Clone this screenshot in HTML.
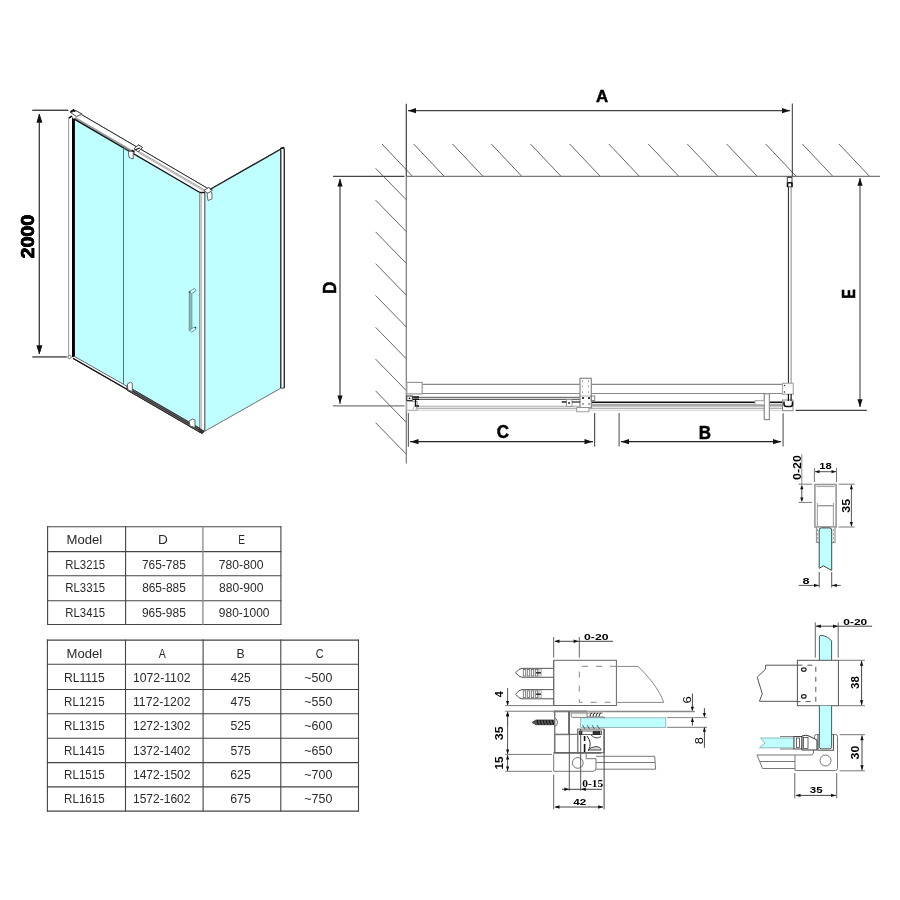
<!DOCTYPE html>
<html><head><meta charset="utf-8"><style>
html,body{margin:0;padding:0;background:#fff;width:900px;height:900px;overflow:hidden}
svg{display:block;will-change:transform}
</style></head><body>
<svg width="900" height="900" viewBox="0 0 900 900">
<rect width="900" height="900" fill="#fff"/>
<line x1="382" y1="144" x2="412.5" y2="176.3" stroke="#555" stroke-width="0.9" />
<line x1="413.7" y1="144" x2="444.2" y2="176.3" stroke="#555" stroke-width="0.9" />
<line x1="452.5" y1="144" x2="483.0" y2="176.3" stroke="#555" stroke-width="0.9" />
<line x1="491.3" y1="144" x2="521.8" y2="176.3" stroke="#555" stroke-width="0.9" />
<line x1="530.5" y1="144" x2="561.0" y2="176.3" stroke="#555" stroke-width="0.9" />
<line x1="569.7" y1="144" x2="600.2" y2="176.3" stroke="#555" stroke-width="0.9" />
<line x1="608.9" y1="144" x2="639.4" y2="176.3" stroke="#555" stroke-width="0.9" />
<line x1="648.3" y1="144" x2="678.8" y2="176.3" stroke="#555" stroke-width="0.9" />
<line x1="687.3" y1="144" x2="717.8" y2="176.3" stroke="#555" stroke-width="0.9" />
<line x1="726.7" y1="144" x2="757.2" y2="176.3" stroke="#555" stroke-width="0.9" />
<line x1="765.7" y1="144" x2="796.2" y2="176.3" stroke="#555" stroke-width="0.9" />
<line x1="802.3" y1="144" x2="832.8" y2="176.3" stroke="#555" stroke-width="0.9" />
<line x1="839" y1="144" x2="869.5" y2="176.3" stroke="#555" stroke-width="0.9" />
<line x1="375.6" y1="168.3" x2="406.3" y2="199.8" stroke="#555" stroke-width="0.9" />
<line x1="375.6" y1="200.1" x2="406.3" y2="231.6" stroke="#555" stroke-width="0.9" />
<line x1="375.6" y1="231.9" x2="406.3" y2="263.4" stroke="#555" stroke-width="0.9" />
<line x1="375.6" y1="263.7" x2="406.3" y2="295.2" stroke="#555" stroke-width="0.9" />
<line x1="375.6" y1="295.5" x2="406.3" y2="327.0" stroke="#555" stroke-width="0.9" />
<line x1="375.6" y1="327.3" x2="406.3" y2="358.8" stroke="#555" stroke-width="0.9" />
<line x1="375.6" y1="359.1" x2="406.3" y2="390.6" stroke="#555" stroke-width="0.9" />
<line x1="375.6" y1="390.9" x2="406.3" y2="422.4" stroke="#555" stroke-width="0.9" />
<line x1="375.6" y1="422.7" x2="406.3" y2="454.2" stroke="#555" stroke-width="0.9" />
<line x1="406.3" y1="176.3" x2="880" y2="176.3" stroke="#777" stroke-width="1.2" />
<line x1="406.3" y1="176.3" x2="406.3" y2="463.6" stroke="#777" stroke-width="1.2" />
<line x1="406.3" y1="103.8" x2="406.3" y2="176.3" stroke="#444" stroke-width="1.2" />
<line x1="792.3" y1="103.5" x2="792.3" y2="176.3" stroke="#333" stroke-width="1" />
<line x1="408" y1="110.7" x2="790" y2="110.7" stroke="#444" stroke-width="1.2" />
<polygon points="408,110.7 416,108.10000000000001 416,113.3" stroke="none" fill="#111" stroke-width="1" />
<polygon points="790,110.7 782,108.10000000000001 782,113.3" stroke="none" fill="#111" stroke-width="1" />
<text x="596.04" y="102.20" font-family="Liberation Sans" font-size="17.35" font-weight="bold" fill="#000" stroke="#000" stroke-width="0.5" textLength="12.18" lengthAdjust="spacingAndGlyphs">A</text>
<line x1="333" y1="176.4" x2="404.5" y2="176.4" stroke="#444" stroke-width="1.2" />
<line x1="333" y1="405.8" x2="404.5" y2="405.8" stroke="#777" stroke-width="1.2" />
<line x1="340" y1="179" x2="340" y2="404" stroke="#444" stroke-width="1.2" />
<polygon points="340,178.5 337.4,186.5 342.6,186.5" stroke="none" fill="#111" stroke-width="1" />
<polygon points="340,403.5 337.4,395.5 342.6,395.5" stroke="none" fill="#111" stroke-width="1" />
<text x="336.00" y="293.99" font-family="Liberation Sans" font-size="17.49" font-weight="bold" fill="#000" stroke="#000" stroke-width="0.5" transform="rotate(-90 336.00 293.99)" textLength="12.59" lengthAdjust="spacingAndGlyphs">D</text>
<line x1="795.6" y1="410.4" x2="866.8" y2="410.4" stroke="#444" stroke-width="1.2" />
<line x1="860" y1="178" x2="860" y2="407" stroke="#555" stroke-width="1.2" />
<polygon points="860,177.8 857.4,185.8 862.6,185.8" stroke="none" fill="#111" stroke-width="1" />
<polygon points="860,407.2 857.4,399.2 862.6,399.2" stroke="none" fill="#111" stroke-width="1" />
<text x="855.30" y="298.81" font-family="Liberation Sans" font-size="17.78" font-weight="bold" fill="#000" stroke="#000" stroke-width="0.5" transform="rotate(-90 855.30 298.81)" textLength="9.69" lengthAdjust="spacingAndGlyphs">E</text>
<line x1="408.4" y1="412.9" x2="408.4" y2="446.7" stroke="#666" stroke-width="1.2" />
<line x1="594.6" y1="413" x2="594.6" y2="446.5" stroke="#555" stroke-width="1.2" />
<line x1="410" y1="441.7" x2="593" y2="441.7" stroke="#222" stroke-width="1.2" />
<polygon points="410.5,441.7 418.5,439.09999999999997 418.5,444.3" stroke="none" fill="#111" stroke-width="1" />
<polygon points="592.5,441.7 584.5,439.09999999999997 584.5,444.3" stroke="none" fill="#111" stroke-width="1" />
<text x="496.87" y="438.30" font-family="Liberation Sans" font-size="18.20" font-weight="bold" fill="#000" stroke="#000" stroke-width="0.5" textLength="12.25" lengthAdjust="spacingAndGlyphs">C</text>
<line x1="619.1" y1="413" x2="619.1" y2="446.5" stroke="#666" stroke-width="1.2" />
<line x1="783.1" y1="413.3" x2="783.1" y2="446.5" stroke="#666" stroke-width="1.2" />
<line x1="621" y1="441.7" x2="781" y2="441.7" stroke="#222" stroke-width="1.2" />
<polygon points="621,441.7 629,439.09999999999997 629,444.3" stroke="none" fill="#111" stroke-width="1" />
<polygon points="781,441.7 773,439.09999999999997 773,444.3" stroke="none" fill="#111" stroke-width="1" />
<text x="698.64" y="438.50" font-family="Liberation Sans" font-size="18.06" font-weight="bold" fill="#000" stroke="#000" stroke-width="0.5" textLength="12.25" lengthAdjust="spacingAndGlyphs">B</text>
<line x1="788.4" y1="186" x2="788.4" y2="384" stroke="#222" stroke-width="1" />
<line x1="791.1" y1="186" x2="791.1" y2="384" stroke="#888" stroke-width="1" />
<rect x="787.4" y="176.8" width="4.6" height="10" stroke="#666" fill="#fff" stroke-width="1.2" />
<path d="M787.6,182.5 v4.5 M792,182.5 v4.5 M787.6,182.8 h4.4" stroke="#111" fill="none" stroke-width="1.5" />
<line x1="787.4" y1="177.3" x2="792" y2="177.3" stroke="#444" stroke-width="1.4" />
<line x1="422" y1="384.4" x2="782.5" y2="384.4" stroke="#888" stroke-width="1.2" />
<line x1="422" y1="393.5" x2="782.5" y2="393.5" stroke="#888" stroke-width="1.2" />
<rect x="406.8" y="382.4" width="15.4" height="11.5" stroke="#999" fill="#fff" stroke-width="1.2" />
<rect x="782.5" y="383.3" width="10.8" height="10.9" stroke="#aaa" fill="#fff" stroke-width="1.2" />
<circle cx="784.5" cy="385.5" r="0.7" fill="#222"/><circle cx="784.5" cy="392" r="0.7" fill="#222"/>
<line x1="414" y1="397.3" x2="580" y2="397.3" stroke="#777" stroke-width="1.3" />
<line x1="414" y1="399.3" x2="580" y2="399.3" stroke="#666" stroke-width="1.3" />
<line x1="591" y1="402.3" x2="782" y2="402.3" stroke="#111" stroke-width="1.6" />
<rect x="591" y="403.7" width="191" height="3" stroke="none" fill="#aaa" stroke-width="1" />
<line x1="406.5" y1="406.3" x2="591" y2="406.3" stroke="#aaa" stroke-width="1.1" />
<line x1="406.5" y1="408.3" x2="782" y2="408.3" stroke="#999" stroke-width="1.1" />
<line x1="406.5" y1="410.3" x2="782" y2="410.3" stroke="#ccc" stroke-width="1.1" />
<rect x="406.8" y="401.5" width="10.5" height="8.8" stroke="#aaa" fill="#fff" stroke-width="1" />
<rect x="406.8" y="396" width="5.5" height="4.5" stroke="#333" fill="#fff" stroke-width="1" />
<circle cx="409.5" cy="398.3" r="0.9" fill="#111"/>
<path d="M412.5,397 h6.5 M413,399.3 h6 M415.5,399.5 v6.5 h3.5" stroke="#111" fill="none" stroke-width="1.4" />
<path d="M413,409.5 l1.5,-4 M416,409.5 l1,-3" stroke="#999" fill="none" stroke-width="0.8" />
<rect x="580" y="378.3" width="11.3" height="29.5" stroke="#888" fill="#fff" stroke-width="1.2" />
<line x1="580" y1="396" x2="591.3" y2="396" stroke="#999" stroke-width="0.8" />
<circle cx="582.5" cy="381" r="0.6" fill="#555"/>
<circle cx="588.5" cy="381" r="0.6" fill="#555"/>
<circle cx="582.5" cy="386" r="0.6" fill="#555"/>
<circle cx="588.5" cy="386" r="0.6" fill="#555"/>
<circle cx="582.5" cy="392" r="0.6" fill="#555"/>
<circle cx="588.5" cy="392" r="0.6" fill="#555"/>
<rect x="591.3" y="396" width="3.5" height="4.5" stroke="#666" fill="#fff" stroke-width="0.8" />
<circle cx="583" cy="398" r="1.1" fill="#111"/><circle cx="589" cy="398" r="1.1" fill="#111"/>
<circle cx="583" cy="404" r="0.7" fill="#111"/><circle cx="589" cy="404" r="0.7" fill="#111"/>
<rect x="576.7" y="407.6" width="12.2" height="4.2" stroke="#888" fill="#fff" stroke-width="0.8" />
<rect x="566.5" y="399.5" width="5.5" height="6.8" stroke="#888" fill="#fff" stroke-width="0.8" />
<line x1="561.7" y1="402" x2="566.5" y2="402" stroke="#222" stroke-width="1.5" />
<line x1="572" y1="402" x2="580" y2="402" stroke="#222" stroke-width="1.2" />
<circle cx="569" cy="403" r="0.9" fill="#111"/>
<rect x="782.5" y="400" width="10.5" height="10.7" stroke="#888" fill="#fff" stroke-width="1" />
<path d="M784,401.5 v2.5 q0,2.5 2.5,2.5 h4 q2,0 2,-2.5 v-2.5" stroke="#111" fill="none" stroke-width="1.6" />
<line x1="788.4" y1="394" x2="788.4" y2="401" stroke="#111" stroke-width="1.2" />
<line x1="791.1" y1="394" x2="791.1" y2="401" stroke="#111" stroke-width="1.2" />
<rect x="764.3" y="393.8" width="5" height="25.8" stroke="#888" fill="#fff" stroke-width="1" />
<rect x="755" y="400.8" width="9.3" height="4" stroke="#999" fill="#fff" stroke-width="0.8" />
<line x1="596.6" y1="0" x2="0" y2="0" stroke="none" stroke-width="0" />
<line x1="32.4" y1="110.4" x2="68.2" y2="110.4" stroke="#444" stroke-width="1.1" />
<line x1="32.4" y1="356.9" x2="66.7" y2="356.9" stroke="#666" stroke-width="1.2" />
<line x1="39.4" y1="114" x2="39.4" y2="354" stroke="#444" stroke-width="1.2" />
<polygon points="39.4,113.7 36.6,122.5 42.199999999999996,122.5" stroke="none" fill="#111" stroke-width="1" />
<polygon points="39.4,354.2 36.6,345.4 42.199999999999996,345.4" stroke="none" fill="#111" stroke-width="1" />
<text x="34.10" y="258.51" font-family="Liberation Sans" font-size="18.77" font-weight="bold" fill="#000" stroke="#000" stroke-width="0.5" transform="rotate(-90 34.10 258.51)" textLength="43.71" lengthAdjust="spacingAndGlyphs">2000</text>
<polygon points="74,118.854 200,192.564 200,429 127,386.5 74,356" stroke="none" fill="#bfffff" stroke-width="1" />
<polygon points="205,192 281,149 281,388 205,431" stroke="none" fill="#bfffff" stroke-width="1" />
<line x1="68.6" y1="117.5" x2="68.6" y2="357" stroke="#aaa" stroke-width="1" />
<line x1="73.5" y1="116" x2="73.5" y2="357" stroke="#000" stroke-width="2.8" />
<polygon points="73,118.66900000000001 70.5,112.5 81.6,114.7 207,188.059 205,195.389" stroke="none" fill="#fff" stroke-width="1" />
<line x1="81.6" y1="114.7" x2="207" y2="188.059" stroke="#333" stroke-width="1" />
<line x1="138" y1="150.99400000000003" x2="206" y2="190.774" stroke="#999" stroke-width="1" />
<line x1="138" y1="152.394" x2="206" y2="192.17399999999998" stroke="#aaa" stroke-width="1" />
<line x1="75" y1="117.73900000000002" x2="135" y2="152.839" stroke="#999" stroke-width="1.8" />
<line x1="73.5" y1="118.5615" x2="205" y2="195.489" stroke="#111" stroke-width="1.4" />
<polygon points="70.5,112.5 76,110.8 82,114.2 76.5,116.5" stroke="#444" fill="#fff" stroke-width="0.9" />
<path d="M70.5,112 l3,-2 l1.5,1.5 M69,118 l3,-2" stroke="#111" fill="none" stroke-width="1.5" />
<polygon points="134.1,148.5 138.5,145 142.6,147.5 138,151.9" stroke="#333" fill="#fff" stroke-width="0.9" />
<line x1="134.5" y1="150" x2="140" y2="148" stroke="#111" stroke-width="1.3" />
<polygon points="128.3,151.5 132,151 133.2,152.5 133.2,159 129,157.5" stroke="#555" fill="#fff" stroke-width="0.9" />
<line x1="131.5" y1="150.5" x2="134.5" y2="151.5" stroke="#111" stroke-width="1.4" />
<line x1="123.5" y1="148.1" x2="123.5" y2="384.5" stroke="#466" stroke-width="0.9" />
<line x1="123.5" y1="148.1" x2="128.3" y2="150.5" stroke="#466" stroke-width="0.8" />
<rect x="199.6" y="192" width="5.6" height="239.5" stroke="none" fill="#fff" stroke-width="1" />
<line x1="199.8" y1="192" x2="199.8" y2="431" stroke="#888" stroke-width="1.3" />
<line x1="201.6" y1="192" x2="201.6" y2="431" stroke="#bbb" stroke-width="1" />
<line x1="204.8" y1="192" x2="204.8" y2="431" stroke="#666" stroke-width="1.3" />
<line x1="199.5" y1="192.5" x2="204.8" y2="192.5" stroke="#111" stroke-width="1.4" />
<polygon points="204,190.5 208.5,187.5 212.5,190 208,193.5" stroke="#444" fill="#fff" stroke-width="0.9" />
<polygon points="207,193.5 211,191.5 212,193 212,199 208,200.5" stroke="#555" fill="#fff" stroke-width="0.9" />
<line x1="210" y1="189.5" x2="281.5" y2="148.8" stroke="#222" stroke-width="1.3" />
<line x1="205" y1="431" x2="281" y2="388" stroke="#777" stroke-width="0.9" />
<rect x="281" y="148.5" width="3.2" height="239.5" stroke="none" fill="#fff" stroke-width="1" />
<line x1="280.8" y1="150" x2="280.8" y2="388" stroke="#111" stroke-width="1.2" />
<line x1="284.2" y1="148.5" x2="284.2" y2="388" stroke="#222" stroke-width="1.2" />
<line x1="280.8" y1="388" x2="284.2" y2="388" stroke="#666" stroke-width="1" />
<line x1="280.5" y1="148.8" x2="284.2" y2="147.5" stroke="#111" stroke-width="1.5" />
<polygon points="74,356 127,386.3 127,389.3 74,358.6" stroke="none" fill="#fff" stroke-width="1" />
<line x1="74" y1="356.2" x2="127" y2="386.3" stroke="#556" stroke-width="0.9" />
<line x1="73" y1="358.3" x2="127" y2="389.2" stroke="#111" stroke-width="1.3" />
<polygon points="127,386 200,428.3 200,432.3 127,390" stroke="#222" fill="#666" stroke-width="0.9" />
<line x1="127" y1="388" x2="200" y2="430.3" stroke="#222" stroke-width="0.8" />
<polygon points="199,428 205,431 202,434 199,432" stroke="none" fill="#333" stroke-width="1" />
<circle cx="69.5" cy="357" r="1.6" stroke="#777" fill="#fff" stroke-width="0.8"/>
<polygon points="127.3,384.5 130.3,383 132.6,384.2 132.6,392 128.3,390.8" stroke="#666" fill="#fff" stroke-width="0.9" />
<line x1="127.3" y1="386" x2="132.6" y2="386.2" stroke="#888" stroke-width="0.8" />
<polygon points="189.3,421.0 192.3,419.5 194.60000000000002,420.7 194.60000000000002,428.5 190.3,427.3" stroke="#666" fill="#fff" stroke-width="0.9" />
<line x1="189.3" y1="422.5" x2="194.60000000000002" y2="422.7" stroke="#888" stroke-width="0.8" />
<rect x="764.3" y="393.8" width="5" height="25.8" stroke="#888" fill="#fff" stroke-width="1" />
<rect x="755" y="400.8" width="9.3" height="4" stroke="#999" fill="#fff" stroke-width="0.8" />
<line x1="596.6" y1="0" x2="0" y2="0" stroke="none" stroke-width="0" />
<line x1="32.4" y1="110.4" x2="68.2" y2="110.4" stroke="#444" stroke-width="1.1" />
<line x1="32.4" y1="356.9" x2="66.7" y2="356.9" stroke="#666" stroke-width="1.2" />
<line x1="39.4" y1="114" x2="39.4" y2="354" stroke="#444" stroke-width="1.2" />
<polygon points="39.4,113.7 36.6,122.5 42.199999999999996,122.5" stroke="none" fill="#111" stroke-width="1" />
<polygon points="39.4,354.2 36.6,345.4 42.199999999999996,345.4" stroke="none" fill="#111" stroke-width="1" />
<text x="34.10" y="258.51" font-family="Liberation Sans" font-size="18.77" font-weight="bold" fill="#000" stroke="#000" stroke-width="0.5" transform="rotate(-90 34.10 258.51)" textLength="43.71" lengthAdjust="spacingAndGlyphs">2000</text>
<polygon points="74,118.854 200,192.564 200,429 127,386.5 74,356" stroke="none" fill="#bfffff" stroke-width="1" />
<polygon points="205,192 281,149 281,388 205,431" stroke="none" fill="#bfffff" stroke-width="1" />
<line x1="68.6" y1="117.5" x2="68.6" y2="357" stroke="#aaa" stroke-width="1" />
<line x1="73.5" y1="116" x2="73.5" y2="357" stroke="#000" stroke-width="2.8" />
<polygon points="73,118.66900000000001 70.5,112.5 81.6,114.7 207,188.059 205,195.389" stroke="none" fill="#fff" stroke-width="1" />
<line x1="81.6" y1="114.7" x2="207" y2="188.059" stroke="#333" stroke-width="1" />
<line x1="138" y1="150.99400000000003" x2="206" y2="190.774" stroke="#999" stroke-width="1" />
<line x1="138" y1="152.394" x2="206" y2="192.17399999999998" stroke="#aaa" stroke-width="1" />
<line x1="75" y1="117.73900000000002" x2="135" y2="152.839" stroke="#999" stroke-width="1.8" />
<line x1="73.5" y1="118.5615" x2="205" y2="195.489" stroke="#111" stroke-width="1.4" />
<polygon points="70.5,112.5 76,110.8 82,114.2 76.5,116.5" stroke="#444" fill="#fff" stroke-width="0.9" />
<path d="M70.5,112 l3,-2 l1.5,1.5 M69,118 l3,-2" stroke="#111" fill="none" stroke-width="1.5" />
<polygon points="134.1,148.5 138.5,145 142.6,147.5 138,151.9" stroke="#333" fill="#fff" stroke-width="0.9" />
<line x1="134.5" y1="150" x2="140" y2="148" stroke="#111" stroke-width="1.3" />
<polygon points="128.3,151.5 132,151 133.2,152.5 133.2,159 129,157.5" stroke="#555" fill="#fff" stroke-width="0.9" />
<line x1="131.5" y1="150.5" x2="134.5" y2="151.5" stroke="#111" stroke-width="1.4" />
<line x1="123.5" y1="148.1" x2="123.5" y2="384.5" stroke="#466" stroke-width="0.9" />
<line x1="123.5" y1="148.1" x2="128.3" y2="150.5" stroke="#466" stroke-width="0.8" />
<rect x="199.6" y="192" width="5.6" height="239.5" stroke="none" fill="#fff" stroke-width="1" />
<line x1="199.8" y1="192" x2="199.8" y2="431" stroke="#888" stroke-width="1.3" />
<line x1="201.6" y1="192" x2="201.6" y2="431" stroke="#bbb" stroke-width="1" />
<line x1="204.8" y1="192" x2="204.8" y2="431" stroke="#666" stroke-width="1.3" />
<line x1="199.5" y1="192.5" x2="204.8" y2="192.5" stroke="#111" stroke-width="1.4" />
<polygon points="204,190.5 208.5,187.5 212.5,190 208,193.5" stroke="#444" fill="#fff" stroke-width="0.9" />
<polygon points="207,193.5 211,191.5 212,193 212,199 208,200.5" stroke="#555" fill="#fff" stroke-width="0.9" />
<line x1="210" y1="189.5" x2="281.5" y2="148.8" stroke="#222" stroke-width="1.3" />
<line x1="205" y1="431" x2="281" y2="388" stroke="#777" stroke-width="0.9" />
<rect x="281" y="148.5" width="3.2" height="239.5" stroke="none" fill="#fff" stroke-width="1" />
<line x1="280.8" y1="150" x2="280.8" y2="388" stroke="#111" stroke-width="1.2" />
<line x1="284.2" y1="148.5" x2="284.2" y2="388" stroke="#222" stroke-width="1.2" />
<line x1="280.8" y1="388" x2="284.2" y2="388" stroke="#666" stroke-width="1" />
<line x1="280.5" y1="148.8" x2="284.2" y2="147.5" stroke="#111" stroke-width="1.5" />
<polygon points="74,356 127,386.3 127,389.3 74,358.6" stroke="none" fill="#fff" stroke-width="1" />
<line x1="74" y1="356.2" x2="127" y2="386.3" stroke="#556" stroke-width="0.9" />
<line x1="73" y1="358.3" x2="127" y2="389.2" stroke="#111" stroke-width="1.3" />
<polygon points="127,386 200,428.3 200,432.3 127,390" stroke="#222" fill="#666" stroke-width="0.9" />
<line x1="127" y1="388" x2="200" y2="430.3" stroke="#222" stroke-width="0.8" />
<polygon points="199,428 205,431 202,434 199,432" stroke="none" fill="#333" stroke-width="1" />
<circle cx="69.5" cy="357" r="1.6" stroke="#777" fill="#fff" stroke-width="0.8"/>
<polygon points="127.3,384 130.5,382.2 132.3,383.2 132.3,391.5 128,390" stroke="#555" fill="#fff" stroke-width="0.9" />
<polygon points="189,421 192.5,419 195,420 195,427.5 190,426" stroke="#555" fill="#fff" stroke-width="0.9" />
<path d="M189.3,292 L189.3,330.5 M191.8,294 L191.8,329" stroke="#578" fill="none" stroke-width="0.9" />
<line x1="190.5" y1="292" x2="190.5" y2="330" stroke="#9bb" stroke-width="1" />
<path d="M189.5,291.5 L194.5,288.5 L196.2,290.5 L191.5,293.8 Z" stroke="#477" fill="#dff" stroke-width="0.8" />
<path d="M189.5,330 L194.5,327 L196.2,329 L191.5,332.2 Z" stroke="#477" fill="#dff" stroke-width="0.8" />
<circle cx="189.5" cy="292" r="0.8" fill="#233"/><circle cx="195.5" cy="327.5" r="0.8" fill="#233"/>
<text x="800.90" y="479.89" font-family="Liberation Sans" font-size="11.52" font-weight="bold" fill="#000" transform="rotate(-90 800.90 479.89)" textLength="24.69" lengthAdjust="spacingAndGlyphs">0-20</text>
<line x1="801.8" y1="454.2" x2="801.8" y2="484.2" stroke="#888" stroke-width="1" />
<line x1="801.8" y1="486" x2="801.8" y2="501" stroke="#555" stroke-width="1" />
<polygon points="801.8,484.8 800.1999999999999,489.3 803.4,489.3" stroke="none" fill="#111" stroke-width="1" />
<polygon points="801.8,502 800.1999999999999,497.5 803.4,497.5" stroke="none" fill="#111" stroke-width="1" />
<line x1="798.5" y1="484.2" x2="812.2" y2="484.2" stroke="#777" stroke-width="1" />
<line x1="798.5" y1="502.4" x2="812.2" y2="502.4" stroke="#777" stroke-width="1" />
<text x="819.30" y="468.90" font-family="Liberation Sans" font-size="9.39" font-weight="bold" fill="#000" textLength="12.48" lengthAdjust="spacingAndGlyphs">18</text>
<line x1="814.4" y1="468" x2="814.4" y2="482" stroke="#777" stroke-width="1" />
<line x1="836.5" y1="468" x2="836.5" y2="482" stroke="#777" stroke-width="1" />
<line x1="815" y1="471.7" x2="836" y2="471.7" stroke="#555" stroke-width="1" />
<polygon points="815,471.7 819.5,470.09999999999997 819.5,473.3" stroke="none" fill="#111" stroke-width="1" />
<polygon points="836,471.7 831.5,470.09999999999997 831.5,473.3" stroke="none" fill="#111" stroke-width="1" />
<text x="849.70" y="512.69" font-family="Liberation Sans" font-size="11.09" font-weight="bold" fill="#000" transform="rotate(-90 849.70 512.69)" textLength="13.80" lengthAdjust="spacingAndGlyphs">35</text>
<line x1="838.6" y1="484.2" x2="854.7" y2="484.2" stroke="#777" stroke-width="1" />
<line x1="838.6" y1="527" x2="854.7" y2="527" stroke="#777" stroke-width="1" />
<line x1="851.4" y1="485" x2="851.4" y2="526" stroke="#555" stroke-width="1" />
<polygon points="851.4,484.8 849.8,489.3 853.0,489.3" stroke="none" fill="#111" stroke-width="1" />
<polygon points="851.4,526.5 849.8,522.0 853.0,522.0" stroke="none" fill="#111" stroke-width="1" />
<rect x="814.9" y="484.5" width="21.2" height="42.5" stroke="#999" fill="#fff" stroke-width="1.6" />
<line x1="816.5" y1="486.5" x2="834.5" y2="486.5" stroke="#aaa" stroke-width="1.2" />
<line x1="817.4" y1="505.7" x2="833.4" y2="505.7" stroke="#999" stroke-width="1.4" />
<line x1="817.4" y1="503" x2="817.4" y2="526" stroke="#aaa" stroke-width="1.2" />
<line x1="833.4" y1="503" x2="833.4" y2="526" stroke="#aaa" stroke-width="1.2" />
<rect x="816.5" y="527" width="18.5" height="15.5" stroke="#999" fill="#fff" stroke-width="1.2" />
<path d="M819.2,568.3 L819.2,530 Q819.2,527.9 821.5,527.9 L829.5,527.9 Q831.7,527.9 831.7,530 L831.7,570.4 L823.3,565.8 Z" stroke="#333" fill="#bfffff" stroke-width="0.9" />
<path d="M817.6,529 V542 M833.4,529 V542" stroke="#999" fill="none" stroke-width="0.9" stroke-dasharray="2.5,1.5"/>
<line x1="819.2" y1="572" x2="819.2" y2="587.5" stroke="#555" stroke-width="1" />
<line x1="831.7" y1="572" x2="831.7" y2="587.5" stroke="#555" stroke-width="1" />
<line x1="798.75" y1="585.4" x2="819" y2="585.4" stroke="#555" stroke-width="1" />
<line x1="832" y1="585.4" x2="840.8" y2="585.4" stroke="#555" stroke-width="1" />
<polygon points="819,585.4 814,583.8 814,587.0" stroke="none" fill="#111" stroke-width="1" />
<polygon points="831.9,585.4 836.9,583.8 836.9,587.0" stroke="none" fill="#111" stroke-width="1" />
<text x="802.51" y="583.75" font-family="Liberation Sans" font-size="9.74" font-weight="bold" fill="#000" textLength="7.01" lengthAdjust="spacingAndGlyphs">8</text>
<line x1="47.1" y1="526.8" x2="281.4" y2="526.8" stroke="#444" stroke-width="1.1" />
<line x1="47.1" y1="551.6" x2="281.4" y2="551.6" stroke="#444" stroke-width="1.1" />
<line x1="47.1" y1="575.8" x2="281.4" y2="575.8" stroke="#444" stroke-width="1.1" />
<line x1="47.1" y1="600.7" x2="281.4" y2="600.7" stroke="#444" stroke-width="1.1" />
<line x1="47.1" y1="624.5" x2="281.4" y2="624.5" stroke="#444" stroke-width="1.1" />
<line x1="47.6" y1="526.3" x2="47.6" y2="625.0" stroke="#444" stroke-width="1.1" />
<line x1="125.6" y1="526.3" x2="125.6" y2="625.0" stroke="#444" stroke-width="1.1" />
<line x1="202.9" y1="526.3" x2="202.9" y2="625.0" stroke="#888" stroke-width="1.3" />
<line x1="280.9" y1="526.3" x2="280.9" y2="625.0" stroke="#444" stroke-width="1.1" />
<line x1="46.9" y1="640.1" x2="359.0" y2="640.1" stroke="#444" stroke-width="1.1" />
<line x1="46.9" y1="664.2" x2="359.0" y2="664.2" stroke="#444" stroke-width="1.1" />
<line x1="46.9" y1="689.5" x2="359.0" y2="689.5" stroke="#444" stroke-width="1.1" />
<line x1="46.9" y1="713.8" x2="359.0" y2="713.8" stroke="#444" stroke-width="1.1" />
<line x1="46.9" y1="738.3" x2="359.0" y2="738.3" stroke="#444" stroke-width="1.1" />
<line x1="46.9" y1="762.6" x2="359.0" y2="762.6" stroke="#444" stroke-width="1.1" />
<line x1="46.9" y1="786.9" x2="359.0" y2="786.9" stroke="#444" stroke-width="1.1" />
<line x1="46.9" y1="811.1" x2="359.0" y2="811.1" stroke="#444" stroke-width="1.1" />
<line x1="47.4" y1="639.6" x2="47.4" y2="811.6" stroke="#444" stroke-width="1.1" />
<line x1="125.5" y1="639.6" x2="125.5" y2="811.6" stroke="#444" stroke-width="1.1" />
<line x1="203.1" y1="639.6" x2="203.1" y2="811.6" stroke="#444" stroke-width="1.1" />
<line x1="280.8" y1="639.6" x2="280.8" y2="811.6" stroke="#444" stroke-width="1.1" />
<line x1="358.5" y1="639.6" x2="358.5" y2="811.6" stroke="#444" stroke-width="1.1" />
<text x="66.48" y="543.80" font-family="Liberation Sans" font-size="12.60" font-weight="normal" fill="#2a2a2a" textLength="35.69" lengthAdjust="spacingAndGlyphs">Model</text>
<text x="158.14" y="543.80" font-family="Liberation Sans" font-size="12.60" font-weight="normal" fill="#2a2a2a" textLength="9.84" lengthAdjust="spacingAndGlyphs">D</text>
<text x="238.21" y="543.80" font-family="Liberation Sans" font-size="12.60" font-weight="normal" fill="#2a2a2a" textLength="6.71" lengthAdjust="spacingAndGlyphs">E</text>
<text x="65.31" y="568.80" font-family="Liberation Sans" font-size="12.60" font-weight="normal" fill="#2a2a2a" textLength="39.85" lengthAdjust="spacingAndGlyphs">RL3215</text>
<text x="141.94" y="568.80" font-family="Liberation Sans" font-size="12.60" font-weight="normal" fill="#2a2a2a" textLength="43.84" lengthAdjust="spacingAndGlyphs">765-785</text>
<text x="218.83" y="568.80" font-family="Liberation Sans" font-size="12.60" font-weight="normal" fill="#2a2a2a" textLength="44.57" lengthAdjust="spacingAndGlyphs">780-800</text>
<text x="65.31" y="592.20" font-family="Liberation Sans" font-size="12.60" font-weight="normal" fill="#2a2a2a" textLength="39.85" lengthAdjust="spacingAndGlyphs">RL3315</text>
<text x="142.13" y="592.20" font-family="Liberation Sans" font-size="12.60" font-weight="normal" fill="#2a2a2a" textLength="43.65" lengthAdjust="spacingAndGlyphs">865-885</text>
<text x="219.02" y="592.20" font-family="Liberation Sans" font-size="12.60" font-weight="normal" fill="#2a2a2a" textLength="44.38" lengthAdjust="spacingAndGlyphs">880-900</text>
<text x="65.31" y="617.20" font-family="Liberation Sans" font-size="12.60" font-weight="normal" fill="#2a2a2a" textLength="39.85" lengthAdjust="spacingAndGlyphs">RL3415</text>
<text x="141.94" y="617.20" font-family="Liberation Sans" font-size="12.60" font-weight="normal" fill="#2a2a2a" textLength="43.84" lengthAdjust="spacingAndGlyphs">965-985</text>
<text x="218.84" y="617.20" font-family="Liberation Sans" font-size="12.60" font-weight="normal" fill="#2a2a2a" textLength="50.66" lengthAdjust="spacingAndGlyphs">980-1000</text>
<text x="66.48" y="657.50" font-family="Liberation Sans" font-size="12.60" font-weight="normal" fill="#2a2a2a" textLength="35.69" lengthAdjust="spacingAndGlyphs">Model</text>
<text x="158.70" y="657.50" font-family="Liberation Sans" font-size="12.60" font-weight="normal" fill="#2a2a2a" textLength="7.05" lengthAdjust="spacingAndGlyphs">A</text>
<text x="236.54" y="657.50" font-family="Liberation Sans" font-size="12.60" font-weight="normal" fill="#2a2a2a" textLength="8.17" lengthAdjust="spacingAndGlyphs">B</text>
<text x="315.79" y="657.50" font-family="Liberation Sans" font-size="12.60" font-weight="normal" fill="#2a2a2a" textLength="7.89" lengthAdjust="spacingAndGlyphs">C</text>
<text x="64.05" y="681.70" font-family="Liberation Sans" font-size="12.60" font-weight="normal" fill="#2a2a2a" textLength="40.64" lengthAdjust="spacingAndGlyphs">RL1115</text>
<text x="132.94" y="681.70" font-family="Liberation Sans" font-size="12.60" font-weight="normal" fill="#2a2a2a" textLength="57.56" lengthAdjust="spacingAndGlyphs">1072-1102</text>
<text x="230.61" y="681.70" font-family="Liberation Sans" font-size="12.60" font-weight="normal" fill="#2a2a2a" textLength="20.18" lengthAdjust="spacingAndGlyphs">425</text>
<text x="304.31" y="681.70" font-family="Liberation Sans" font-size="12.60" font-weight="normal" fill="#2a2a2a" textLength="28.00" lengthAdjust="spacingAndGlyphs">~500</text>
<text x="64.10" y="705.80" font-family="Liberation Sans" font-size="12.60" font-weight="normal" fill="#2a2a2a" textLength="40.57" lengthAdjust="spacingAndGlyphs">RL1215</text>
<text x="132.94" y="705.80" font-family="Liberation Sans" font-size="12.60" font-weight="normal" fill="#2a2a2a" textLength="57.56" lengthAdjust="spacingAndGlyphs">1172-1202</text>
<text x="230.61" y="705.80" font-family="Liberation Sans" font-size="12.60" font-weight="normal" fill="#2a2a2a" textLength="20.18" lengthAdjust="spacingAndGlyphs">475</text>
<text x="304.31" y="705.80" font-family="Liberation Sans" font-size="12.60" font-weight="normal" fill="#2a2a2a" textLength="28.00" lengthAdjust="spacingAndGlyphs">~550</text>
<text x="64.10" y="730.30" font-family="Liberation Sans" font-size="12.60" font-weight="normal" fill="#2a2a2a" textLength="40.57" lengthAdjust="spacingAndGlyphs">RL1315</text>
<text x="132.95" y="730.30" font-family="Liberation Sans" font-size="12.60" font-weight="normal" fill="#2a2a2a" textLength="57.54" lengthAdjust="spacingAndGlyphs">1272-1302</text>
<text x="230.42" y="730.30" font-family="Liberation Sans" font-size="12.60" font-weight="normal" fill="#2a2a2a" textLength="20.38" lengthAdjust="spacingAndGlyphs">525</text>
<text x="304.31" y="730.30" font-family="Liberation Sans" font-size="12.60" font-weight="normal" fill="#2a2a2a" textLength="28.00" lengthAdjust="spacingAndGlyphs">~600</text>
<text x="64.10" y="755.00" font-family="Liberation Sans" font-size="12.60" font-weight="normal" fill="#2a2a2a" textLength="40.57" lengthAdjust="spacingAndGlyphs">RL1415</text>
<text x="132.95" y="755.00" font-family="Liberation Sans" font-size="12.60" font-weight="normal" fill="#2a2a2a" textLength="57.54" lengthAdjust="spacingAndGlyphs">1372-1402</text>
<text x="230.42" y="755.00" font-family="Liberation Sans" font-size="12.60" font-weight="normal" fill="#2a2a2a" textLength="20.38" lengthAdjust="spacingAndGlyphs">575</text>
<text x="304.31" y="755.00" font-family="Liberation Sans" font-size="12.60" font-weight="normal" fill="#2a2a2a" textLength="28.00" lengthAdjust="spacingAndGlyphs">~650</text>
<text x="64.10" y="779.20" font-family="Liberation Sans" font-size="12.60" font-weight="normal" fill="#2a2a2a" textLength="40.57" lengthAdjust="spacingAndGlyphs">RL1515</text>
<text x="132.95" y="779.20" font-family="Liberation Sans" font-size="12.60" font-weight="normal" fill="#2a2a2a" textLength="57.54" lengthAdjust="spacingAndGlyphs">1472-1502</text>
<text x="230.22" y="779.20" font-family="Liberation Sans" font-size="12.60" font-weight="normal" fill="#2a2a2a" textLength="20.58" lengthAdjust="spacingAndGlyphs">625</text>
<text x="304.31" y="779.20" font-family="Liberation Sans" font-size="12.60" font-weight="normal" fill="#2a2a2a" textLength="28.00" lengthAdjust="spacingAndGlyphs">~700</text>
<text x="64.10" y="803.30" font-family="Liberation Sans" font-size="12.60" font-weight="normal" fill="#2a2a2a" textLength="40.57" lengthAdjust="spacingAndGlyphs">RL1615</text>
<text x="132.95" y="803.30" font-family="Liberation Sans" font-size="12.60" font-weight="normal" fill="#2a2a2a" textLength="57.54" lengthAdjust="spacingAndGlyphs">1572-1602</text>
<text x="230.22" y="803.30" font-family="Liberation Sans" font-size="12.60" font-weight="normal" fill="#2a2a2a" textLength="20.58" lengthAdjust="spacingAndGlyphs">675</text>
<text x="304.31" y="803.30" font-family="Liberation Sans" font-size="12.60" font-weight="normal" fill="#2a2a2a" textLength="28.00" lengthAdjust="spacingAndGlyphs">~750</text>
<line x1="553.7" y1="637" x2="553.7" y2="657.7" stroke="#666" stroke-width="1" />
<line x1="579.3" y1="637" x2="579.3" y2="657.7" stroke="#666" stroke-width="1" />
<line x1="555" y1="641.3" x2="613" y2="641.3" stroke="#444" stroke-width="1" />
<polygon points="554.5,641.3 559.5,639.5999999999999 559.5,643.0" stroke="none" fill="#111" stroke-width="1" />
<polygon points="578.6,641.3 573.6,639.5999999999999 573.6,643.0" stroke="none" fill="#111" stroke-width="1" />
<text x="584.02" y="640.00" font-family="Liberation Sans" font-size="9.53" font-weight="bold" fill="#000" textLength="24.48" lengthAdjust="spacingAndGlyphs">0-20</text>
<rect x="553.7" y="660.3" width="62.7" height="45.2" stroke="#666" fill="#fff" stroke-width="1" />
<path d="M616,666.3 H579.3 V702.3 H616" stroke="#888" fill="none" stroke-width="1" stroke-dasharray="6,8"/>
<path d="M616,666.4 H638 C648,676 659,689 663.7,702.4 H616" stroke="#888" fill="none" stroke-width="1" />
<path d="M553.7,668.3499999999999 H522 Q519,668.3499999999999 515.6,672.8 Q519,677.25 522,677.25 H553.7" stroke="#555" fill="#fff" stroke-width="1" />
<rect x="523.3" y="669.55" width="2.4" height="6.5" stroke="#666" fill="#fff" stroke-width="0.8" />
<rect x="527.3" y="669.55" width="2.4" height="6.5" stroke="#666" fill="#fff" stroke-width="0.8" />
<rect x="531.3" y="669.55" width="2.4" height="6.5" stroke="#666" fill="#fff" stroke-width="0.8" />
<rect x="535.3" y="669.55" width="2.4" height="6.5" stroke="#666" fill="#fff" stroke-width="0.8" />
<rect x="538.5" y="669.3499999999999" width="3" height="6.9" stroke="#aaa" fill="#ddd" stroke-width="0.6" />
<path d="M536,672.8 h5" stroke="#222" fill="none" stroke-width="1.4" />
<path d="M553.7,689.6 H522 Q519,689.6 515.6,694.2 Q519,698.8000000000001 522,698.8000000000001 H553.7" stroke="#555" fill="#fff" stroke-width="1" />
<rect x="523.3" y="690.8000000000001" width="2.4" height="6.799999999999999" stroke="#666" fill="#fff" stroke-width="0.8" />
<rect x="527.3" y="690.8000000000001" width="2.4" height="6.799999999999999" stroke="#666" fill="#fff" stroke-width="0.8" />
<rect x="531.3" y="690.8000000000001" width="2.4" height="6.799999999999999" stroke="#666" fill="#fff" stroke-width="0.8" />
<rect x="535.3" y="690.8000000000001" width="2.4" height="6.799999999999999" stroke="#666" fill="#fff" stroke-width="0.8" />
<rect x="538.5" y="690.6" width="3" height="7.199999999999999" stroke="#aaa" fill="#ddd" stroke-width="0.6" />
<path d="M536,694.2 h5" stroke="#222" fill="none" stroke-width="1.4" />
<line x1="553.7" y1="660.3" x2="553.7" y2="705.5" stroke="#666" stroke-width="1" />
<text x="502.90" y="697.30" font-family="Liberation Sans" font-size="11.09" font-weight="bold" fill="#000" transform="rotate(-90 502.90 697.30)" textLength="6.03" lengthAdjust="spacingAndGlyphs">4</text>
<line x1="507.6" y1="688" x2="507.6" y2="705" stroke="#555" stroke-width="1" />
<polygon points="507.6,705.5 506.0,701.0 509.20000000000005,701.0" stroke="none" fill="#111" stroke-width="1" />
<line x1="507.6" y1="711.4" x2="507.6" y2="726" stroke="#555" stroke-width="1" />
<polygon points="507.6,711.4 506.0,715.9 509.20000000000005,715.9" stroke="none" fill="#111" stroke-width="1" />
<line x1="505.3" y1="705.6" x2="553.7" y2="705.6" stroke="#777" stroke-width="1" />
<line x1="505.3" y1="711.3" x2="694.7" y2="711.3" stroke="#777" stroke-width="1.1" />
<text x="691.40" y="703.52" font-family="Liberation Sans" font-size="11.80" font-weight="normal" fill="#000" transform="rotate(-90 691.40 703.52)" textLength="7.36" lengthAdjust="spacingAndGlyphs">6</text>
<line x1="692.4" y1="693.6" x2="692.4" y2="710" stroke="#444" stroke-width="1" />
<polygon points="692.4,711.3 690.8,706.8 694.0,706.8" stroke="none" fill="#111" stroke-width="1" />
<line x1="692.4" y1="717.6" x2="692.4" y2="725.6" stroke="#444" stroke-width="1" />
<polygon points="692.4,717.6 690.8,722.1 694.0,722.1" stroke="none" fill="#111" stroke-width="1" />
<line x1="667.1" y1="717.6" x2="707.1" y2="717.6" stroke="#888" stroke-width="1" />
<line x1="667.1" y1="727.3" x2="707.1" y2="727.3" stroke="#777" stroke-width="1" />
<line x1="704.4" y1="708.2" x2="704.4" y2="716" stroke="#444" stroke-width="1" />
<polygon points="704.4,717.6 702.8,713.1 706.0,713.1" stroke="none" fill="#111" stroke-width="1" />
<line x1="704.4" y1="727.3" x2="704.4" y2="747.8" stroke="#444" stroke-width="1" />
<polygon points="704.4,727.3 702.8,731.8 706.0,731.8" stroke="none" fill="#111" stroke-width="1" />
<text x="703.10" y="744.20" font-family="Liberation Sans" font-size="10.67" font-weight="normal" fill="#000" transform="rotate(-90 703.10 744.20)" textLength="7.12" lengthAdjust="spacingAndGlyphs">8</text>
<rect x="580.7" y="717.8" width="85.1" height="9.8" stroke="#8aa" fill="#bfffff" stroke-width="0.8" />
<line x1="553.5" y1="711.6" x2="587" y2="711.6" stroke="#888" stroke-width="2" />
<line x1="603.5" y1="711.6" x2="694.7" y2="711.6" stroke="#888" stroke-width="1.4" />
<rect x="554.7" y="711.6" width="14" height="22.9" stroke="#777" fill="#fff" stroke-width="1.4" />
<line x1="554.7" y1="734.5" x2="554.7" y2="752.4" stroke="#777" stroke-width="1.6" />
<line x1="554.7" y1="734.4" x2="577.5" y2="734.4" stroke="#777" stroke-width="1.2" />
<path d="M555.4,718.2 Q559.5,722.3 555.4,726.4" stroke="#666" fill="none" stroke-width="1" />
<path d="M532,722.4 L536,720 H553.7 V724.7 H536 Z" stroke="#333" fill="#555" stroke-width="0.8" />
<line x1="537" y1="720" x2="538.5" y2="724.7" stroke="#111" stroke-width="1" />
<line x1="540" y1="720" x2="541.5" y2="724.7" stroke="#111" stroke-width="1" />
<line x1="543" y1="720" x2="544.5" y2="724.7" stroke="#111" stroke-width="1" />
<line x1="546" y1="720" x2="547.5" y2="724.7" stroke="#111" stroke-width="1" />
<line x1="549" y1="720" x2="550.5" y2="724.7" stroke="#111" stroke-width="1" />
<line x1="552" y1="720" x2="553.5" y2="724.7" stroke="#111" stroke-width="1" />
<path d="M571.1,713 H587 V717.5 H573 Q571.1,717.5 571.1,715.5 Z" stroke="#888" fill="#f4f4f4" stroke-width="1" />
<path d="M587,713 h16 M587,717 h16 L605,717.8" stroke="#555" fill="none" stroke-width="0.8" />
<path d="M590,716.5 q0,-3 2,-3.5" stroke="#222" fill="none" stroke-width="1" />
<path d="M593,716.5 q0,-3 2,-3.5" stroke="#222" fill="none" stroke-width="1" />
<path d="M596,716.5 q0,-3 2,-3.5" stroke="#222" fill="none" stroke-width="1" />
<path d="M599,716.5 q0,-3 2,-3.5" stroke="#222" fill="none" stroke-width="1" />
<rect x="577.5" y="729.1" width="26.6" height="23.6" stroke="#777" fill="#fff" stroke-width="1.1" />
<rect x="579" y="731" width="22.5" height="3.5" stroke="#555" fill="#fff" stroke-width="0.9" />
<path d="M579.5,731.5 h2.5 v3 h-2.5 z M593,731.5 h7 v3 h-7 z" stroke="#111" fill="#333" stroke-width="0.6" />
<line x1="582.5" y1="725" x2="585.0" y2="729" stroke="#444" stroke-width="0.8" />
<line x1="587" y1="725" x2="589.5" y2="729" stroke="#444" stroke-width="0.8" />
<line x1="592" y1="725" x2="594.5" y2="729" stroke="#444" stroke-width="0.8" />
<line x1="597" y1="725" x2="599.5" y2="729" stroke="#444" stroke-width="0.8" />
<line x1="578.1" y1="735" x2="578.1" y2="752" stroke="#999" stroke-width="1" />
<path d="M584.6,736 v5 M584.6,744 v8" stroke="#111" fill="none" stroke-width="1.6" />
<path d="M587,736 Q592.5,743 588.5,750.5" stroke="#333" fill="none" stroke-width="1" />
<path d="M588,750.5 Q590,747 596,746.5 Q601,747 601,750 H588" stroke="#333" fill="#ddd" stroke-width="0.9" />
<path d="M591,735 Q596,740 601,736.5" stroke="#333" fill="none" stroke-width="0.9" />
<line x1="553.5" y1="752.9" x2="601.3" y2="752.9" stroke="#666" stroke-width="1.8" />
<path d="M553.7,754 V771.3 H593 Q596,771.3 596,768 V758.7 H586.2 V754" stroke="#777" fill="none" stroke-width="1" />
<circle cx="577.8" cy="762.9" r="5.4" stroke="#666" fill="none" stroke-width="0.9"/>
<path d="M596,756.3 H654.7 L655.6,769.2 H596 M596,762.5 H655" stroke="#777" fill="none" stroke-width="1" />
<line x1="569.3" y1="711" x2="569.3" y2="790.7" stroke="#555" stroke-width="1" />
<line x1="580.7" y1="729" x2="580.7" y2="790.7" stroke="#555" stroke-width="1" />
<line x1="604.1" y1="729" x2="604.1" y2="809.3" stroke="#444" stroke-width="1" />
<text x="503.30" y="740.19" font-family="Liberation Sans" font-size="11.80" font-weight="bold" fill="#000" transform="rotate(-90 503.30 740.19)" textLength="13.80" lengthAdjust="spacingAndGlyphs">35</text>
<text x="503.30" y="769.43" font-family="Liberation Sans" font-size="11.80" font-weight="bold" fill="#000" transform="rotate(-90 503.30 769.43)" textLength="13.02" lengthAdjust="spacingAndGlyphs">15</text>
<line x1="505.3" y1="754.4" x2="552" y2="754.4" stroke="#777" stroke-width="1" />
<line x1="505.3" y1="771.3" x2="552" y2="771.3" stroke="#777" stroke-width="1" />
<line x1="507.6" y1="712" x2="507.6" y2="754" stroke="#555" stroke-width="1" />
<polygon points="507.6,712 506.0,716.5 509.20000000000005,716.5" stroke="none" fill="#111" stroke-width="1" />
<polygon points="507.6,754 506.0,749.5 509.20000000000005,749.5" stroke="none" fill="#111" stroke-width="1" />
<line x1="507.6" y1="755" x2="507.6" y2="771" stroke="#555" stroke-width="1" />
<polygon points="507.6,755 506.0,759.5 509.20000000000005,759.5" stroke="none" fill="#111" stroke-width="1" />
<polygon points="507.6,771 506.0,766.5 509.20000000000005,766.5" stroke="none" fill="#111" stroke-width="1" />
<line x1="553.7" y1="774.7" x2="553.7" y2="809.3" stroke="#666" stroke-width="1" />
<line x1="555" y1="807" x2="603" y2="807" stroke="#444" stroke-width="1" />
<polygon points="554.5,807 559.5,805.3 559.5,808.7" stroke="none" fill="#111" stroke-width="1" />
<polygon points="603.2,807 598.2,805.3 598.2,808.7" stroke="none" fill="#111" stroke-width="1" />
<text x="573.30" y="804.70" font-family="Liberation Sans" font-size="8.96" font-weight="bold" fill="#000" textLength="12.99" lengthAdjust="spacingAndGlyphs">42</text>
<line x1="562" y1="789.3" x2="602" y2="789.3" stroke="#444" stroke-width="1" />
<polygon points="569.3,789.3 564.3,787.5999999999999 564.3,791.0" stroke="none" fill="#111" stroke-width="1" />
<polygon points="580.9,789.3 585.9,787.5999999999999 585.9,791.0" stroke="none" fill="#111" stroke-width="1" />
<text x="582.34" y="786.70" font-family="Liberation Serif" font-size="9.97" font-weight="bold" fill="#000" textLength="21.02" lengthAdjust="spacingAndGlyphs">0-15</text>
<line x1="815.3" y1="622.3" x2="815.3" y2="657.7" stroke="#666" stroke-width="1" />
<line x1="838.2" y1="622.3" x2="838.2" y2="657.7" stroke="#666" stroke-width="1" />
<line x1="816" y1="626.2" x2="872.1" y2="626.2" stroke="#444" stroke-width="1" />
<polygon points="815.8,626.2 820.8,624.5 820.8,627.9000000000001" stroke="none" fill="#111" stroke-width="1" />
<polygon points="838,626.2 833,624.5 833,627.9000000000001" stroke="none" fill="#111" stroke-width="1" />
<text x="843.22" y="624.90" font-family="Liberation Sans" font-size="9.24" font-weight="bold" fill="#000" textLength="24.06" lengthAdjust="spacingAndGlyphs">0-20</text>
<path d="M819.4,660.3 V637 Q819.4,635.3 821,635.3 Q828,636 831.6,641 V660.3" stroke="#444" fill="#bfffff" stroke-width="0.9" />
<path d="M797.4,665.2 H765.6 V669.2 L757.2,677.2 L762.3,693.8 L759.4,701.3 H797.4" stroke="#555" fill="none" stroke-width="1" />
<rect x="797.4" y="660.3" width="41" height="45.4" stroke="#555" fill="#fff" stroke-width="1" />
<path d="M797.4,665.2 H815.8 V701.6 H797.4" stroke="#555" fill="none" stroke-width="1" stroke-dasharray="5,5"/>
<ellipse cx="803.8" cy="669.6" rx="2.3" ry="1.7" stroke="#222" fill="none" stroke-width="1.2"/>
<ellipse cx="803.8" cy="696.4" rx="2.3" ry="1.7" stroke="#222" fill="none" stroke-width="1.2"/>
<line x1="838.4" y1="660.3" x2="864.9" y2="660.3" stroke="#777" stroke-width="1" />
<line x1="838.4" y1="705.7" x2="864.9" y2="705.7" stroke="#777" stroke-width="1" />
<line x1="861.6" y1="661" x2="861.6" y2="705" stroke="#444" stroke-width="1" />
<polygon points="861.6,660.8 859.9,665.8 863.3000000000001,665.8" stroke="none" fill="#111" stroke-width="1" />
<polygon points="861.6,705.2 859.9,700.2 863.3000000000001,700.2" stroke="none" fill="#111" stroke-width="1" />
<text x="859.50" y="688.98" font-family="Liberation Sans" font-size="10.81" font-weight="bold" fill="#000" transform="rotate(-90 859.50 688.98)" textLength="12.77" lengthAdjust="spacingAndGlyphs">38</text>
<path d="M814.5,736.5 Q814.5,734.5 816.5,734.5 H835.5 Q837.5,734.5 837.5,736.5 V768.5 Q837.5,770.5 835.5,770.5 H795 V755 H811 Q813.5,755 813.5,752 Z" stroke="#777" fill="#fff" stroke-width="1" />
<circle cx="825.5" cy="760.5" r="5.5" stroke="#666" fill="none" stroke-width="0.9"/>
<rect x="818" y="736" width="15.5" height="14" stroke="none" fill="#fff" stroke-width="1" />
<path d="M819.4,705.7 V746.8 Q819.4,748.8 821.4,748.8 H829.6 Q831.6,748.8 831.6,746.8 V705.7" stroke="#444" fill="#bfffff" stroke-width="0.9" />
<path d="M818,735 V750.2 H833.5 V735" stroke="#555" fill="none" stroke-width="1.1" />
<path d="M795,755 H757 L762.5,768.5 H795 M760,761.5 H795" stroke="#777" fill="none" stroke-width="1" />
<path d="M794,738 H760.5 L765,743 L759.5,747.8 H794 Z" stroke="#7aa" fill="#bfffff" stroke-width="0.8" />
<path d="M780,736.5 H794 M780,749 H794" stroke="#777" fill="none" stroke-width="0.9" />
<rect x="794" y="736.5" width="8" height="12.5" stroke="#444" fill="#fff" stroke-width="1" />
<rect x="796.5" y="738" width="3" height="9.5" stroke="#444" fill="#fff" stroke-width="0.8" />
<path d="M802,736 Q806,734.5 809,736 L817,740 V750 H802 Z" stroke="#333" fill="#fff" stroke-width="1" />
<rect x="803.5" y="737.5" width="4.5" height="11" stroke="#444" fill="#fff" stroke-width="0.8" />
<line x1="839.6" y1="734.7" x2="864.9" y2="734.7" stroke="#777" stroke-width="1" />
<line x1="839.6" y1="770.8" x2="864.9" y2="770.8" stroke="#777" stroke-width="1" />
<line x1="862" y1="735.5" x2="862" y2="770" stroke="#444" stroke-width="1" />
<polygon points="862,735.2 860.3,740.2 863.7,740.2" stroke="none" fill="#111" stroke-width="1" />
<polygon points="862,770.3 860.3,765.3 863.7,765.3" stroke="none" fill="#111" stroke-width="1" />
<text x="859.50" y="759.39" font-family="Liberation Sans" font-size="10.81" font-weight="bold" fill="#000" transform="rotate(-90 859.50 759.39)" textLength="13.69" lengthAdjust="spacingAndGlyphs">30</text>
<line x1="794.8" y1="773" x2="794.8" y2="798.3" stroke="#666" stroke-width="1" />
<line x1="836.7" y1="773" x2="836.7" y2="798.3" stroke="#666" stroke-width="1" />
<line x1="796" y1="795.4" x2="836" y2="795.4" stroke="#444" stroke-width="1" />
<polygon points="795.5,795.4 800.5,793.6999999999999 800.5,797.1" stroke="none" fill="#111" stroke-width="1" />
<polygon points="836,795.4 831,793.6999999999999 831,797.1" stroke="none" fill="#111" stroke-width="1" />
<text x="809.82" y="792.50" font-family="Liberation Sans" font-size="9.24" font-weight="bold" fill="#000" textLength="12.77" lengthAdjust="spacingAndGlyphs">35</text>
</svg>
</body></html>
